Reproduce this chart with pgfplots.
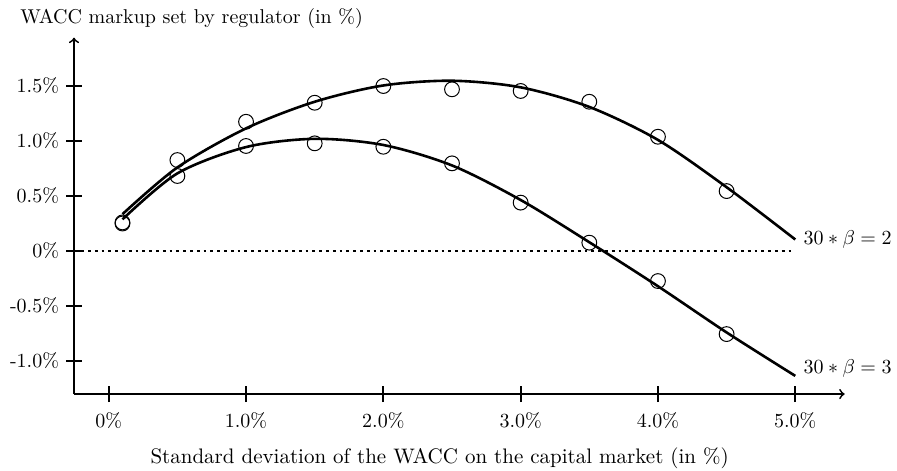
\documentclass[border=0pt]{standalone}
\usepackage{pgfplots}
\pgfplotsset{compat=1.18}

% fitted curves
\pgfplotstableread{
x    y
0.1  0.335
0.5  0.76
1.0  1.115
1.5  1.357
2.0  1.505
2.5  1.548
3.0  1.488
3.5  1.31
4.0  1.01
4.5  0.58
5.0  0.105
}\curvetwo
\pgfplotstableread{
x    y
0.1  0.288
0.5  0.706
1.0  0.945
1.5  1.02
2.0  0.964
2.5  0.778
3.0  0.464
3.5  0.08
4.0  -0.32
4.5  -0.74
5.0  -1.135
}\curvethree
% simulated points
\pgfplotstableread{
x    y
0.1  0.26
0.5  0.827
1.0  1.175
1.5  1.348
2.0  1.50
2.5  1.47
3.0  1.455
3.5  1.357
4.0  1.039
4.5  0.545
}\ptstwo
\pgfplotstableread{
x    y
0.1  0.25
0.5  0.682
1.0  0.955
1.5  0.979
2.0  0.948
2.5  0.797
3.0  0.44
3.5  0.076
4.0  -0.273
4.5  -0.755
}\ptsthree

\begin{document}
\begin{tikzpicture}
\begin{axis}[
  x=68.65pt, y=55pt,
  xmin=-0.253, xmax=5.36,
  ymin=-1.30, ymax=1.94,
  axis lines=left,
  axis line style={line width=0.9pt, ->},
  xtick={0,1,2,3,4,5},
  xticklabels={0\%,1.0\%,2.0\%,3.0\%,4.0\%,5.0\%},
  ytick={-1,-0.5,0,0.5,1,1.5},
  yticklabels={-1.0\%,-0.5\%,0\%,0.5\%,1.0\%,1.5\%},
  xticklabel style={yshift=-1.5pt},
  tick align=center,
  major tick length=8pt,
  tick style={line width=0.9pt, black},
  clip=false,
]
\addplot[line width=1.4pt, dash pattern=on 1.4pt off 2.0pt, forget plot]
  coordinates {(-0.2,0) (5.0,0)};

\addplot[black, line width=1.3pt, smooth, no marks] table[x=x, y=y] {\curvetwo};
\addplot[black, line width=1.3pt, smooth, no marks] table[x=x, y=y] {\curvethree};
\addplot[black, only marks, mark=o, mark size=3.7pt, mark options={line width=0.5pt}]
  table[x=x, y=y] {\ptstwo};
\addplot[black, only marks, mark=o, mark size=3.7pt, mark options={line width=0.5pt}]
  table[x=x, y=y] {\ptsthree};

\node[anchor=west, inner sep=0pt, xshift=4pt] at (axis cs:5.0,0.106) {$30*\beta=2$};
\node[anchor=west, inner sep=0pt, xshift=4pt] at (axis cs:5.0,-1.064) {$30*\beta=3$};

\node[anchor=base west, inner sep=0pt] at (axis cs:-0.646,2.064)
  {WACC markup set by regulator (in \%)};
\node[anchor=base, inner sep=0pt, scale=1.05] at (axis cs:2.41,-1.93)
  {Standard deviation of the WACC on the capital market (in \%)};

\coordinate (bl) at (axis cs:-0.792,-1.991);
\coordinate (tr) at (axis cs:5.741,2.282);
\end{axis}
\pgfresetboundingbox
\path[use as bounding box] (bl) rectangle (tr);
\end{tikzpicture}
\end{document}
